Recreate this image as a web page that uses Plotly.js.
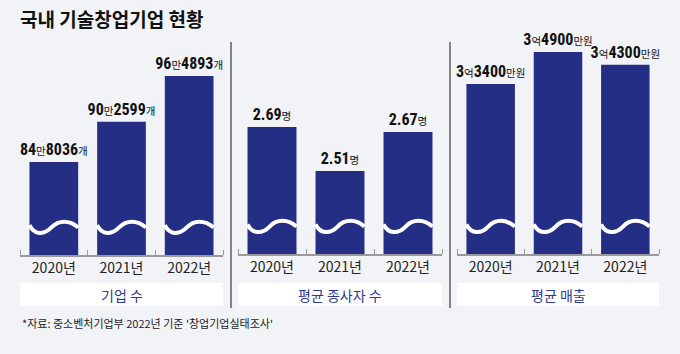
<!DOCTYPE html>
<html>
<head>
<meta charset="utf-8">
<script src="https://cdn.plot.ly/plotly-3.0.1.min.js"></script>
<style>html,body{margin:0;padding:0;background:#f2f3f6;}#chart{width:680px;height:354px;}</style>
</head>
<body>
<div id="chart"></div>
<script>
// ---- data ----
const years = [2020, 2021, 2022];
const yearLabels = ['2020년', '2021년', '2022년'];
const companies = [848036, 902599, 964893];      // 기업 수 (개)
const employees = [2.69, 2.51, 2.67];             // 평균 종사자 수 (명)
const sales = [33400, 34900, 34300];              // 평균 매출 (만원)
const panelTitles = ['기업 수', '평균 종사자 수', '평균 매출'];
const chartTitle = '국내 기술창업기업 현황';
const sourceNote = "*자료: 중소벤처기업부 2022년 기준 '창업기업실태조사'";

// ---- styles ----
const W = 680, H = 354;
const NAVY = '#242e84';
const BG = '#f2f3f6';
const LABEL_BLUE = '#2d3a8e';
const NUM_FONT = '"Liberation Sans Narrow", "Roboto Condensed", Roboto, "Noto Sans CJK KR", sans-serif';
const KR_FONT = '"Noto Sans CJK KR", "Noto Sans", sans-serif';
const small = s => '<span style="font-size:10.5px;font-weight:normal;font-family:\'Noto Sans CJK KR\'">' + s + '</span>';
const big = s => '<b>' + s + '</b>';

function fmtCompanies(v) {
  const man = Math.floor(v / 10000), rest = v % 10000;
  return big(man) + small('만') + big(String(rest).padStart(4, '0')) + small('개');
}
function fmtEmployees(v) { return big(v.toFixed(2)) + small('명'); }
function fmtSales(v) {
  const eok = Math.floor(v / 10000), rest = v % 10000;
  return big(eok) + small('억') + big(String(rest).padStart(4, '0')) + small('만원');
}

const px = x => x / W;
const py = y => 1 - y / H;

const panels = [
  {vals: companies, fmt: fmtCompanies, x: [20, 223], base: 255, range: [721666, 1013809]},
  {vals: employees, fmt: fmtEmployees, x: [238, 442], base: 254, range: [2.1704, 3.0459]},
  {vals: sales, fmt: fmtSales, x: [457, 659], base: 254, range: [25431, 35462]}
];
const TOP = 40;
const BARW = 0.72;

const traces = [];
const layout = {
  width: W, height: H,
  margin: {l: 0, r: 0, t: 0, b: 0},
  paper_bgcolor: BG, plot_bgcolor: BG,
  showlegend: false,
  bargap: 1 - BARW,
  title: {
    text: '<b>' + chartTitle + '</b>',
    x: px(20), xanchor: 'left', xref: 'paper',
    y: py(20), yanchor: 'middle', yref: 'container',
    font: {family: KR_FONT, size: 19, color: '#111'}
  },
  shapes: [],
  annotations: []
};

panels.forEach((p, i) => {
  const n = i + 1;
  const xa = 'x' + (n === 1 ? '' : n), ya = 'y' + (n === 1 ? '' : n);
  traces.push({
    type: 'bar', x: years, y: p.vals, xaxis: xa, yaxis: ya,
    marker: {color: NAVY, line: {width: 0}},
    text: p.vals.map(p.fmt), textposition: 'outside', cliponaxis: false,
    constraintext: 'none', textangle: 0,
    textfont: {family: NUM_FONT, size: 16, color: '#111'},
    hoverinfo: 'skip'
  });
  layout['xaxis' + (n === 1 ? '' : n)] = {
    domain: [px(p.x[0]), px(p.x[1])], anchor: ya,
    range: [years[0] - 0.5, years[years.length - 1] + 0.5],
    tickmode: 'array', tickvals: years, ticktext: yearLabels,
    ticks: '', showgrid: false, zeroline: false,
    showline: true, linecolor: '#9a9a9a', linewidth: 1.5,
    tickfont: {family: KR_FONT, size: 14, color: '#222'},
    minor: {tickmode: 'linear', tick0: years[0] - 0.5, dtick: 1, ticks: 'inside', ticklen: 5, tickcolor: '#9a9a9a', tickwidth: 1, showgrid: false},
    fixedrange: true
  };
  layout['yaxis' + (n === 1 ? '' : n)] = {
    domain: [py(p.base), py(TOP)], anchor: xa, range: p.range,
    showgrid: false, zeroline: false, showline: false, showticklabels: false, ticks: '',
    fixedrange: true
  };
  // break waves
  const yc = 0.128, A = 0.027 * 1.33;
  years.forEach(yr => {
    const x0 = yr - BARW / 2, w = BARW;
    const path = `M ${x0},${yc + 0.3 * A} C ${x0 + 0.1 * w},${yc - A} ${x0 + 0.3 * w},${yc - A} ${x0 + 0.45 * w},${yc} ` +
                 `C ${x0 + 0.6 * w},${yc + A} ${x0 + 0.82 * w},${yc + A} ${x0 + w},${yc}`;
    layout.shapes.push({type: 'path', xref: xa, yref: ya + ' domain', path: path,
      line: {color: '#ffffff', width: 4}, layer: 'above'});
  });
  // label box
  layout.shapes.push({type: 'rect', xref: 'paper', yref: 'paper',
    x0: px(p.x[0]), x1: px(p.x[1]), y0: py(306), y1: py(283),
    fillcolor: '#ffffff', line: {width: 0}, layer: 'below'});
  layout.annotations.push({xref: 'paper', yref: 'paper', x: px((p.x[0] + p.x[1]) / 2), y: py(294.5),
    xanchor: 'center', yanchor: 'middle', showarrow: false, text: panelTitles[i],
    font: {family: KR_FONT, size: 14, color: LABEL_BLUE}});
});

// dividers
[231, 450].forEach(x => layout.shapes.push({type: 'line', xref: 'paper', yref: 'paper',
  x0: px(x), x1: px(x), y0: py(42), y1: py(308), line: {color: '#111', width: 1}}));

layout.annotations.push({xref: 'paper', yref: 'paper', x: px(20), y: py(323),
  xanchor: 'left', yanchor: 'middle', showarrow: false, text: sourceNote,
  font: {family: KR_FONT, size: 11, color: '#222'}});

Plotly.newPlot('chart', traces, layout, {displayModeBar: false, staticPlot: true});
</script>
</body>
</html>
